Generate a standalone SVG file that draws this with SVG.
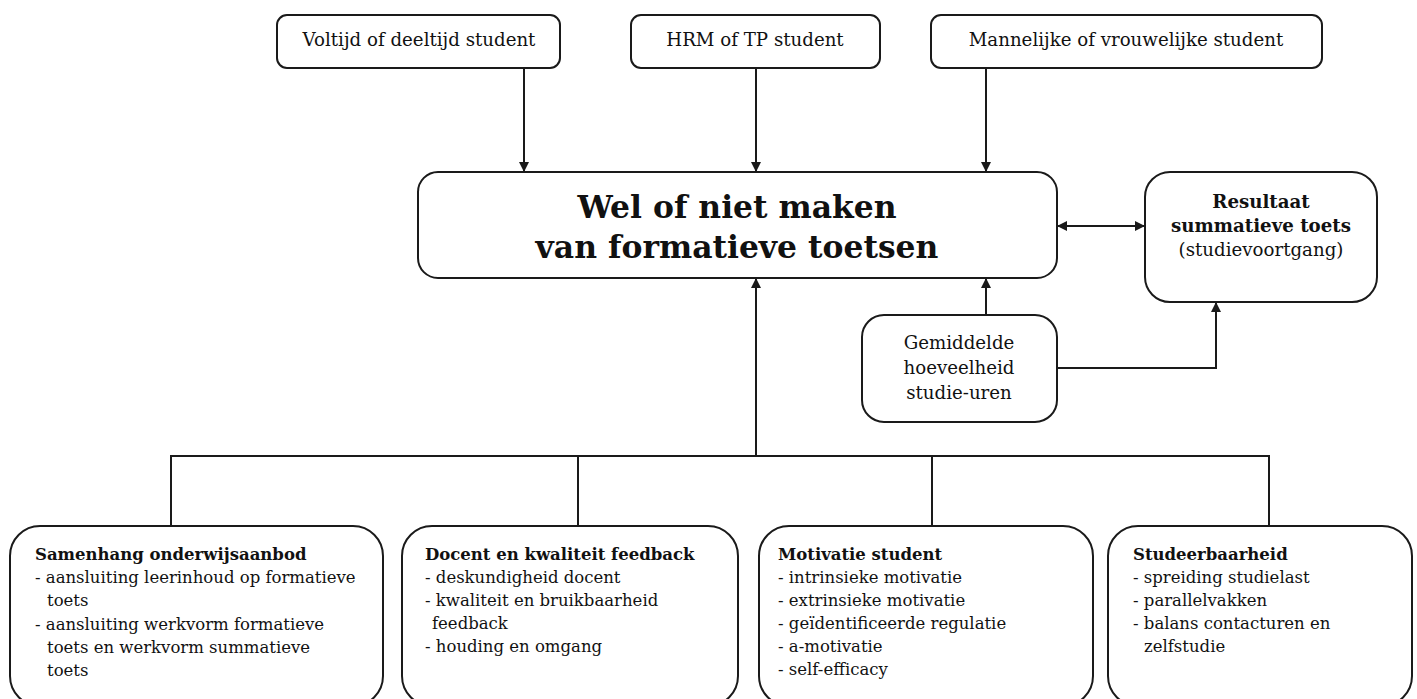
<svg xmlns="http://www.w3.org/2000/svg" width="1417" height="699" viewBox="0 0 1417 699">
<defs>
<marker id="ah" viewBox="0 0 10 10" refX="10" refY="5" markerWidth="10" markerHeight="10" markerUnits="userSpaceOnUse" orient="auto-start-reverse">
<path d="M0,0 L10,5 L0,10 Z" fill="#1a1a1a"/>
</marker>
</defs>
<style>
.box{fill:#fff;stroke:#1a1a1a;stroke-width:2}
.t{font-family:"DejaVu Serif","Liberation Serif",serif;font-size:16.5px;fill:#111}
.m{font-size:18.2px}
.c{text-anchor:middle}
.b{font-weight:bold}
.big{font-family:"DejaVu Serif","Liberation Serif",serif;font-size:31.4px;font-weight:bold;fill:#111;text-anchor:middle}
.ln{fill:none;stroke:#1a1a1a;stroke-width:2}
</style>
<rect width="1417" height="699" fill="#fff"/>
<g id="connectors">
<line class="ln" x1="524" y1="68" x2="524" y2="172" marker-end="url(#ah)"/>
<line class="ln" x1="756" y1="68" x2="756" y2="172" marker-end="url(#ah)"/>
<line class="ln" x1="986" y1="68" x2="986" y2="172" marker-end="url(#ah)"/>
<line class="ln" x1="1057" y1="226" x2="1145" y2="226" marker-start="url(#ah)" marker-end="url(#ah)"/>
<line class="ln" x1="986" y1="315" x2="986" y2="278" marker-end="url(#ah)"/>
<polyline class="ln" points="1057,368 1216,368 1216,302" marker-end="url(#ah)"/>
<polyline class="ln" points="171,526 171,456 1269,456 1269,526"/>
<line class="ln" x1="578" y1="456" x2="578" y2="526"/>
<line class="ln" x1="932" y1="456" x2="932" y2="526"/>
<line class="ln" x1="756" y1="456" x2="756" y2="278" marker-end="url(#ah)"/>
</g>
<g id="n-voltijd">
<rect class="box" x="277" y="15" width="283" height="53" rx="10"/>
<text class="t m c" x="419" y="46">Voltijd of deeltijd student</text>
</g>
<g id="n-hrm">
<rect class="box" x="631" y="15" width="249" height="53" rx="10"/>
<text class="t m c" x="755" y="46">HRM of TP student</text>
</g>
<g id="n-geslacht">
<rect class="box" x="931" y="15" width="391" height="53" rx="10"/>
<text class="t m c" x="1126" y="46">Mannelijke of vrouwelijke student</text>
</g>
<g id="n-main">
<rect class="box" x="418" y="172" width="639" height="106" rx="20"/>
<text class="big" x="737" y="218">Wel of niet maken</text>
<text class="big" x="737" y="258">van formatieve toetsen</text>
</g>
<g id="n-resultaat">
<rect class="box" x="1145" y="172" width="232" height="130" rx="25"/>
<text class="t m c b" x="1261" y="208">Resultaat</text>
<text class="t m c b" x="1261" y="232">summatieve toets</text>
<text class="t m c" x="1261" y="256">(studievoortgang)</text>
</g>
<g id="n-uren">
<rect class="box" x="862" y="315" width="195" height="107" rx="22"/>
<text class="t m c" x="959" y="349">Gemiddelde</text>
<text class="t m c" x="959" y="374">hoeveelheid</text>
<text class="t m c" x="959" y="399">studie-uren</text>
</g>
<g id="n-samenhang">
<rect class="box" x="10" y="526" width="373" height="180" rx="30"/>
<text class="t b" x="35" y="560">Samenhang onderwijsaanbod</text>
<text class="t" x="35" y="583">- aansluiting leerinhoud op formatieve</text>
<text class="t" x="47" y="606">toets</text>
<text class="t" x="35" y="630">- aansluiting werkvorm formatieve</text>
<text class="t" x="47" y="653">toets en werkvorm summatieve</text>
<text class="t" x="47" y="676">toets</text>
</g>
<g id="n-docent">
<rect class="box" x="402" y="526" width="336" height="180" rx="30"/>
<text class="t b" x="425" y="560">Docent en kwaliteit feedback</text>
<text class="t" x="425" y="583">- deskundigheid docent</text>
<text class="t" x="425" y="606">- kwaliteit en bruikbaarheid</text>
<text class="t" x="432" y="629">feedback</text>
<text class="t" x="425" y="652">- houding en omgang</text>
</g>
<g id="n-motivatie">
<rect class="box" x="759" y="526" width="334" height="180" rx="30"/>
<text class="t b" x="778" y="560">Motivatie student</text>
<text class="t" x="778" y="583">- intrinsieke motivatie</text>
<text class="t" x="778" y="606">- extrinsieke motivatie</text>
<text class="t" x="778" y="629">- geïdentificeerde regulatie</text>
<text class="t" x="778" y="652">- a-motivatie</text>
<text class="t" x="778" y="675">- self-efficacy</text>
</g>
<g id="n-studeerbaarheid">
<rect class="box" x="1108" y="526" width="304" height="180" rx="30"/>
<text class="t b" x="1133" y="560">Studeerbaarheid</text>
<text class="t" x="1133" y="583">- spreiding studielast</text>
<text class="t" x="1133" y="606">- parallelvakken</text>
<text class="t" x="1133" y="629">- balans contacturen en</text>
<text class="t" x="1144" y="652">zelfstudie</text>
</g>
</svg>
